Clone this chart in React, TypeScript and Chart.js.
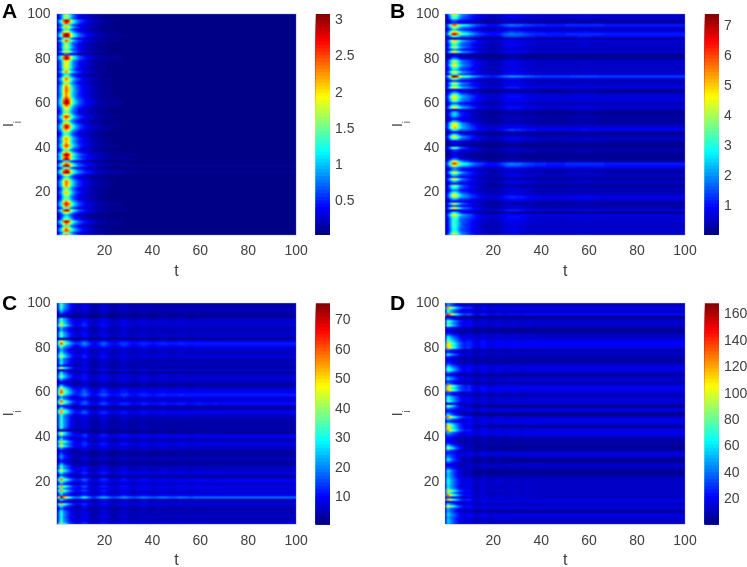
import React, { useEffect, useRef } from "react";
import { Chart, registerables } from "chart.js";

Chart.register(...registerables);

const FONT = '"Liberation Sans", Arial, sans-serif';
const TEXT = "#404040";

const xTicks = [20, 40, 60, 80, 100];
const yTicks = [20, 40, 60, 80, 100];

// Per-row peak level at the early pulse (rows 100 down to 1), per panel
const peakA = [
  1.6, 1.7, 1.5, 3.0, 2.6, 1.5, 2.1, 1.3, 1.9, 3.0,
  3.1, 1.5, 2.4, 1.5, 1.6, 1.7, 1.4, 2.0, 0.7, 2.8,
  2.9, 2.0, 1.9, 1.9, 1.9, 1.6, 2.2, 1.2, 1.5, 2.3,
  2.0, 1.6, 2.1, 2.3, 2.35, 2.3, 2.2, 2.3, 2.6, 2.9,
  3.0, 2.4, 1.9, 1.7, 1.5, 1.9, 2.6, 2.1, 1.5, 2.0,
  2.7, 2.7, 2.1, 1.5, 1.4, 1.9, 2.2, 2.0, 2.2, 2.5,
  2.1, 1.4, 2.2, 3.0, 2.6, 2.9, 1.1, 2.3, 3.0, 1.4,
  2.6, 3.1, 1.9, 1.2, 1.7, 2.3, 2.3, 2.2, 1.5, 1.7,
  2.0, 1.7, 1.4, 1.5, 2.2, 2.7, 2.4, 1.4, 2.9, 1.8,
  1.0, 1.2, 1.6, 2.9, 2.3, 1.4, 2.2, 2.5, 1.5, 2.2,
];
const peakB = [
  4.5, 3.5, 3.0, 1.5, 1.2, 5.5, 3.8, 2.5, 4.6, 6.5,
  3.0, 0.7, 4.7, 3.6, 3.0, 4.0, 2.0, 4.5, 0.8, 0.7,
  2.0, 3.8, 3.6, 4.5, 3.2, 2.5, 4.5, 2.8, 7.0, 3.6,
  1.5, 4.0, 3.2, 4.5, 0.9, 1.8, 3.2, 4.5, 4.0, 3.4,
  1.6, 3.0, 4.5, 0.8, 2.2, 2.5, 2.0, 1.0, 2.2, 4.5,
  4.5, 4.8, 2.4, 0.7, 2.6, 4.5, 3.0, 0.7, 0.7, 0.6,
  3.5, 1.2, 0.7, 0.7, 0.8, 1.8, 4.2, 5.8, 4.0, 1.8,
  2.0, 4.5, 2.6, 1.5, 4.5, 2.2, 1.1, 3.8, 2.8, 1.8,
  3.0, 4.5, 3.8, 2.0, 0.9, 4.0, 1.6, 4.6, 0.5, 2.8,
  4.4, 3.4, 3.0, 3.0, 3.0, 3.0, 2.8, 2.8, 3.5, 4.5,
];
const peakC = [
  33, 32, 30, 24, 18, 10, 5, 30, 32, 35,
  46, 22, 20, 28, 32, 30, 3, 42, 55, 35,
  24, 20, 26, 35, 40, 25, 25, 25, 12, 45,
  5, 26, 30, 35, 20, 10, 8, 25, 40, 52,
  55, 38, 16, 30, 55, 35, 10, 28, 50, 48,
  30, 28, 30, 30, 30, 30, 26, 3, 45, 32,
  15, 25, 50, 30, 45, 18, 8, 12, 18, 18,
  12, 10, 22, 30, 28, 45, 25, 15, 30, 52,
  30, 18, 50, 30, 50, 28, 15, 70, 25, 8,
  48, 25, 15, 24, 28, 28, 26, 28, 30, 45,
];
const peakD = [
  40, 40, 115, 60, 55, 130, 15, 30, 70, 60,
  75, 25, 15, 12, 25, 50, 60, 70, 100, 95,
  105, 30, 20, 55, 25, 15, 18, 25, 40, 60,
  70, 35, 15, 35, 50, 20, 40, 110, 85, 110,
  25, 30, 60, 60, 65, 8, 90, 40, 10, 30,
  60, 120, 40, 15, 70, 110, 90, 115, 40, 25,
  20, 18, 15, 30, 60, 90, 35, 15, 25, 40,
  60, 40, 10, 15, 30, 60, 55, 50, 50, 55,
  55, 55, 50, 60, 105, 70, 125, 25, 110, 10,
  50, 95, 40, 45, 45, 45, 40, 45, 45, 48,
];

// Per-row level of the long-lasting streaks (rows 100 down to 1), per panel
const tailA = [
  0.25, 0.25, 0.25, 0.35, 0.3, 0.25, 0.3, 0.2, 0.3, 0.4,
  0.45, 0.25, 0.35, 0.25, 0.25, 0.25, 0.2, 0.25, 0.1, 0.35,
  0.4, 0.3, 0.25, 0.25, 0.25, 0.25, 0.3, 0.2, 0.2, 0.3,
  0.3, 0.25, 0.3, 0.3, 0.3, 0.3, 0.3, 0.3, 0.35, 0.4,
  0.4, 0.35, 0.3, 0.25, 0.25, 0.3, 0.35, 0.3, 0.2, 0.3,
  0.35, 0.35, 0.3, 0.25, 0.2, 0.25, 0.3, 0.3, 0.3, 0.35,
  0.3, 0.25, 0.35, 0.5, 0.45, 0.5, 0.25, 0.4, 0.55, 0.25,
  0.5, 0.65, 0.4, 0.2, 0.25, 0.3, 0.3, 0.3, 0.25, 0.25,
  0.3, 0.25, 0.25, 0.25, 0.3, 0.4, 0.35, 0.25, 0.45, 0.3,
  0.15, 0.2, 0.25, 0.4, 0.35, 0.2, 0.3, 0.35, 0.25, 0.3,
];
const tailB = [
  0.9, 0.9, 0.8, 0.5, 0.6, 1.9, 1.2, 0.7, 1.4, 1.9,
  1.6, 0.4, 1.0, 0.9, 0.9, 0.8, 0.7, 1.0, 0.35, 0.3,
  0.3, 0.8, 0.9, 0.8, 0.9, 0.8, 0.9, 1.0, 2.2, 1.0,
  0.7, 0.9, 0.8, 1.2, 0.4, 0.4, 1.0, 1.1, 1.0, 1.0,
  0.7, 0.9, 1.1, 0.6, 0.3, 0.4, 0.5, 0.6, 0.4, 0.5,
  0.9, 1.0, 1.4, 0.4, 0.35, 0.7, 0.9, 0.6, 0.3, 0.25,
  0.3, 0.7, 0.4, 0.3, 0.25, 0.3, 0.6, 1.9, 1.7, 1.0,
  0.6, 0.6, 0.9, 0.7, 0.4, 0.9, 0.7, 0.4, 0.7, 0.7,
  0.7, 0.9, 1.3, 1.1, 0.7, 0.4, 0.7, 0.6, 1.2, 0.2,
  1.0, 1.1, 1.0, 0.9, 0.8, 0.8, 0.8, 0.8, 0.8, 0.9,
];
const tailC = [
  5, 5, 6, 6, 5, 4, 2.5, 7, 8, 9,
  9, 6, 6, 7, 8, 7, 2.5, 11, 15, 13,
  9, 7, 7, 8, 9, 6, 6, 6, 6, 5,
  9, 2.5, 8, 8, 9, 7, 5, 4, 8, 11,
  12, 15, 12, 7, 10, 14, 8, 3, 9, 12,
  8, 6, 6, 5, 5, 5, 5, 4, 2.5, 11,
  10, 6, 7, 11, 8, 8, 5, 4, 3, 6,
  6, 4, 3, 6, 8, 7, 11, 6, 5, 12,
  10, 7, 11, 9, 10, 7, 12, 22, 5, 8,
  9, 7, 5, 6, 6, 7, 6, 6, 8, 11,
];
const tailD = [
  10, 10, 19, 15, 12, 22, 5, 8, 16, 14,
  14, 8, 6, 6, 14, 14, 16, 20, 20, 20,
  19, 8, 12, 13, 7, 8, 8, 9, 16, 17,
  17, 13, 6, 12, 13, 12, 7, 18, 20, 19,
  14, 9, 13, 15, 15, 13, 3, 13, 18, 8,
  3, 14, 17, 18, 16, 6, 14, 17, 17, 18,
  9, 8, 8, 7, 6, 6, 8, 16, 17, 9,
  5, 6, 12, 13, 9, 4, 5, 7, 10, 14,
  14, 13, 13, 13, 14, 13, 12, 14, 16, 18,
  10, 16, 16, 4, 13, 18, 15, 12, 13, 12,
];

// Time profiles, 100 samples over the t axis, per panel
const pulseA = [
  0.1, 0.25, 0.42, 0.8, 1, 0.86, 0.58, 0.4, 0.3, 0.22,
  0.17, 0.13, 0.1, 0.08, 0.065, 0.05, 0.04, 0.03, 0.025, 0.02,
  0.015, 0.012, 0.01, 0.008, 0.006, 0.005, 0.004, 0.003, 0.002, 0.001,
  0, 0, 0, 0, 0, 0, 0, 0, 0, 0,
  0, 0, 0, 0, 0, 0, 0, 0, 0, 0,
  0, 0, 0, 0, 0, 0, 0, 0, 0, 0,
  0, 0, 0, 0, 0, 0, 0, 0, 0, 0,
  0, 0, 0, 0, 0, 0, 0, 0, 0, 0,
  0, 0, 0, 0, 0, 0, 0, 0, 0, 0,
  0, 0, 0, 0, 0, 0, 0, 0, 0, 0,
];
const streakA = [
  0.3, 0.3, 0.3, 0.3, 0.3, 0.3, 0.3, 0.3, 0.3, 0.32,
  0.34, 0.35, 0.35, 0.35, 0.33, 0.31, 0.29, 0.27, 0.25, 0.24,
  0.23, 0.22, 0.21, 0.2, 0.19, 0.19, 0.18, 0.18, 0.17, 0.17,
  0.17, 0.16, 0.16, 0.16, 0.15, 0.15, 0.15, 0.15, 0.15, 0.15,
  0.15, 0.15, 0.15, 0.15, 0.15, 0.15, 0.15, 0.15, 0.15, 0.15,
  0.15, 0.15, 0.15, 0.15, 0.15, 0.15, 0.15, 0.15, 0.15, 0.15,
  0.15, 0.15, 0.15, 0.15, 0.15, 0.15, 0.15, 0.15, 0.15, 0.15,
  0.15, 0.15, 0.15, 0.15, 0.15, 0.15, 0.15, 0.15, 0.15, 0.15,
  0.15, 0.15, 0.15, 0.15, 0.15, 0.15, 0.15, 0.15, 0.15, 0.15,
  0.15, 0.15, 0.15, 0.15, 0.15, 0.15, 0.15, 0.15, 0.15, 0.15,
];
const pulseB = [
  0.1, 0.25, 0.55, 0.92, 1, 0.8, 0.52, 0.38, 0.3, 0.25,
  0.2, 0.16, 0.13, 0.1, 0.08, 0.06, 0.05, 0.04, 0.03, 0.02,
  0.015, 0.01, 0.005, 0, 0, 0, 0, 0, 0, 0,
  0, 0, 0, 0, 0, 0, 0, 0, 0, 0,
  0, 0, 0, 0, 0, 0, 0, 0, 0, 0,
  0, 0, 0, 0, 0, 0, 0, 0, 0, 0,
  0, 0, 0, 0, 0, 0, 0, 0, 0, 0,
  0, 0, 0, 0, 0, 0, 0, 0, 0, 0,
  0, 0, 0, 0, 0, 0, 0, 0, 0, 0,
  0, 0, 0, 0, 0, 0, 0, 0, 0, 0,
];
const streakB = [
  0.2, 0.2, 0.2, 0.2, 0.2, 0.3, 0.4, 0.5, 0.6, 0.65,
  0.65, 0.6, 0.58, 0.55, 0.52, 0.5, 0.48, 0.46, 0.46, 0.46,
  0.48, 0.52, 0.58, 0.66, 0.76, 0.84, 0.9, 0.93, 0.93, 0.92,
  0.9, 0.87, 0.83, 0.78, 0.75, 0.72, 0.7, 0.68, 0.66, 0.65,
  0.64, 0.63, 0.62, 0.62, 0.62, 0.62, 0.62, 0.62, 0.62, 0.62,
  0.63, 0.64, 0.65, 0.66, 0.66, 0.67, 0.67, 0.68, 0.68, 0.68,
  0.67, 0.66, 0.65, 0.65, 0.64, 0.63, 0.62, 0.62, 0.62, 0.62,
  0.62, 0.62, 0.62, 0.62, 0.62, 0.62, 0.62, 0.62, 0.62, 0.62,
  0.62, 0.62, 0.62, 0.62, 0.62, 0.62, 0.62, 0.62, 0.62, 0.62,
  0.62, 0.62, 0.62, 0.62, 0.62, 0.62, 0.62, 0.62, 0.62, 0.62,
];
const pulseC = [
  0.03, 0.55, 1, 0.65, 0.5, 0.36, 0.26, 0.18, 0.13, 0.1,
  0.08, 0.09, 0.09, 0.06, 0.04, 0.03, 0.02, 0.02, 0.03, 0.03,
  0.03, 0.02, 0.01, 0.01, 0.01, 0.01, 0.01, 0.01, 0.01, 0.01,
  0, 0, 0, 0, 0, 0, 0, 0, 0, 0,
  0, 0, 0, 0, 0, 0, 0, 0, 0, 0,
  0, 0, 0, 0, 0, 0, 0, 0, 0, 0,
  0, 0, 0, 0, 0, 0, 0, 0, 0, 0,
  0, 0, 0, 0, 0, 0, 0, 0, 0, 0,
  0, 0, 0, 0, 0, 0, 0, 0, 0, 0,
  0, 0, 0, 0, 0, 0, 0, 0, 0, 0,
];
const streakC = [
  0.3, 0.5, 0.5, 0.5, 0.5, 0.5, 0.45, 0.42, 0.45, 0.55,
  0.75, 0.98, 1.0, 0.85, 0.68, 0.58, 0.6, 0.72, 0.88, 1.0,
  1.0, 0.88, 0.76, 0.68, 0.66, 0.7, 0.8, 0.9, 0.95, 0.9,
  0.82, 0.75, 0.72, 0.74, 0.8, 0.87, 0.9, 0.87, 0.82, 0.77,
  0.75, 0.76, 0.8, 0.84, 0.86, 0.84, 0.8, 0.78, 0.77, 0.78,
  0.82, 0.84, 0.84, 0.82, 0.8, 0.78, 0.78, 0.8, 0.82, 0.82,
  0.82, 0.8, 0.79, 0.79, 0.8, 0.81, 0.82, 0.81, 0.8, 0.79,
  0.8, 0.8, 0.81, 0.81, 0.8, 0.8, 0.8, 0.8, 0.8, 0.8,
  0.8, 0.8, 0.8, 0.8, 0.8, 0.8, 0.8, 0.8, 0.8, 0.8,
  0.8, 0.8, 0.8, 0.8, 0.8, 0.8, 0.8, 0.8, 0.8, 0.8,
];
const pulseD = [
  0.3, 1, 0.8, 0.6, 0.45, 0.33, 0.24, 0.17, 0.12, 0.09,
  0.07, 0.05, 0.03, 0.02, 0.01, 0.015, 0.015, 0.01, 0, 0,
  0, 0, 0, 0, 0, 0, 0, 0, 0, 0,
  0, 0, 0, 0, 0, 0, 0, 0, 0, 0,
  0, 0, 0, 0, 0, 0, 0, 0, 0, 0,
  0, 0, 0, 0, 0, 0, 0, 0, 0, 0,
  0, 0, 0, 0, 0, 0, 0, 0, 0, 0,
  0, 0, 0, 0, 0, 0, 0, 0, 0, 0,
  0, 0, 0, 0, 0, 0, 0, 0, 0, 0,
  0, 0, 0, 0, 0, 0, 0, 0, 0, 0,
];
const streakD = [
  0.6, 0.7, 0.8, 0.85, 0.85, 0.8, 0.7, 0.68, 0.75, 0.95,
  1.1, 1.0, 0.82, 0.75, 0.88, 1.05, 1.1, 1.0, 0.92, 0.9,
  0.95, 1.02, 1.04, 1.02, 0.98, 0.95, 0.97, 1.0, 1.02, 1.02,
  1.0, 0.98, 0.98, 1.0, 1.01, 1.01, 1.0, 1.0, 1.0, 1.0,
  1.0, 1.0, 1.0, 1.0, 1.0, 1.0, 1.0, 1.0, 1.0, 1.0,
  1.0, 1.0, 1.0, 1.0, 1.0, 1.0, 1.0, 1.0, 1.0, 1.0,
  1.0, 1.0, 1.0, 1.0, 1.0, 1.0, 1.0, 1.0, 1.0, 1.0,
  1.0, 1.0, 1.0, 1.0, 1.0, 1.0, 1.0, 1.0, 1.0, 1.0,
  1.0, 1.0, 1.0, 1.0, 1.0, 1.0, 1.0, 1.0, 1.0, 1.0,
  1.0, 1.0, 1.0, 1.0, 1.0, 1.0, 1.0, 1.0, 1.0, 1.0,
];

// Colour scale ranges and colourbar ticks
const rangeA = [0.03, 3.09];
const rangeB = [0.03, 7.4];
const rangeC = [0.8, 75.8];
const rangeD = [1, 168.5];
const barTicksA = [0.5, 1, 1.5, 2, 2.5, 3];
const barTicksB = [1, 2, 3, 4, 5, 6, 7];
const barTicksC = [10, 20, 30, 40, 50, 60, 70];
const barTicksD = [20, 40, 60, 80, 100, 120, 140, 160];

const LEVELS = 64;

function jet(f: number): [number, number, number] {
  const i = Math.max(0, Math.min(LEVELS - 1, Math.floor(f * LEVELS)));
  const g = (i + 0.5) / LEVELS;
  const c = (v: number) => Math.round(255 * Math.max(0, Math.min(1, v)));
  return [
    c(Math.min(4 * g - 1.5, -4 * g + 4.5)),
    c(Math.min(4 * g - 0.5, -4 * g + 3.5)),
    c(Math.min(4 * g + 0.5, -4 * g + 2.5)),
  ];
}

function buildCells(peak: number[], tail: number[], pulse: number[], streak: number[], range: number[]) {
  const cells: { x: number; y: number; v: number; col: number; row: number }[] = [];
  peak.forEach((p, r) => {
    pulse.forEach((q, t) => {
      const v = p * q + tail[r] * streak[t];
      cells.push({
        x: (t * 100) / 99,
        y: 100 - r,
        col: t,
        row: r,
        v: Math.max(range[0], Math.min(range[1], v)),
      });
    });
  });
  return cells;
}

const heatPlugin = {
  id: "heat",
  beforeDatasetsDraw(chart: any) {
    const ds = chart.data.datasets[0];
    const cells = ds.data as { col: number; row: number; v: number }[];
    const [lo, hi] = ds.vRange as number[];
    const off = document.createElement("canvas");
    off.width = 100;
    off.height = 100;
    const octx = off.getContext("2d")!;
    const img = octx.createImageData(100, 100);
    for (const c of cells) {
      const [r, g, b] = jet((c.v - lo) / (hi - lo));
      const k = (c.row * 100 + c.col) * 4;
      img.data[k] = r;
      img.data[k + 1] = g;
      img.data[k + 2] = b;
      img.data[k + 3] = 255;
    }
    octx.putImageData(img, 0, 0);
    const { x, y } = chart.scales;
    const x0 = x.getPixelForValue(0);
    const x1 = x.getPixelForValue(100);
    const y0 = y.getPixelForValue(100);
    const y1 = y.getPixelForValue(1);
    const ctx = chart.ctx;
    ctx.save();
    ctx.imageSmoothingEnabled = true;
    ctx.imageSmoothingQuality = "high";
    ctx.drawImage(off, 0.5, 0.5, 99, 99, x0, y0, x1 - x0, y1 - y0);
    ctx.strokeStyle = "rgba(120,130,240,0.4)";
    ctx.lineWidth = 1;
    ctx.strokeRect(x0, y0, x1 - x0, y1 - y0);
    ctx.restore();
  },
};

const labelPlugin = {
  id: "panelLabels",
  afterDraw(chart: any, _a: any, opts: any) {
    const ctx = chart.ctx;
    const area = chart.chartArea;
    const cy = (area.top + area.bottom) / 2;
    ctx.save();
    ctx.fillStyle = "#000";
    ctx.font = `bold 21px ${FONT}`;
    ctx.textBaseline = "alphabetic";
    ctx.textAlign = "left";
    ctx.fillText(opts.letter, opts.letterX, opts.letterY);
    ctx.fillStyle = TEXT;
    ctx.translate(area.left - 43.5, cy + 2.5);
    ctx.rotate(-Math.PI / 2);
    ctx.font = `14px ${FONT}`;
    ctx.fillText("I", 0, 0);
    ctx.font = `10px ${FONT}`;
    ctx.fillText("i", 3.8, 8);
    ctx.restore();
  },
};

const tickStyle = {
  font: { family: FONT, size: 14 },
  color: TEXT,
  maxRotation: 0,
  autoSkip: false,
};

type PanelProps = {
  letter: string;
  left: number;
  top: number;
  areaLeft: number;
  areaTop: number;
  letterX: number;
  letterY: number;
  peak: number[];
  tail: number[];
  pulse: number[];
  streak: number[];
  range: number[];
};

const PW = 312;
const PH = 283;
const AREA_W = 239.7;
const AREA_H = 221;

function HeatPanel(p: PanelProps) {
  const ref = useRef<HTMLCanvasElement>(null);
  useEffect(() => {
    const chart = new Chart(ref.current!, {
      type: "scatter",
      data: {
        datasets: [
          {
            data: buildCells(p.peak, p.tail, p.pulse, p.streak, p.range),
            vRange: p.range,
            pointRadius: 0,
            pointHoverRadius: 0,
          } as any,
        ],
      },
      options: {
        responsive: false,
        animation: false,
        events: [],
        layout: {
          autoPadding: false,
          padding: { left: 0, top: p.areaTop, right: PW - p.areaLeft - AREA_W, bottom: 0 },
        },
        scales: {
          x: {
            type: "linear",
            min: 0,
            max: 100,
            grid: { display: false, drawTicks: false },
            border: { display: false },
            afterBuildTicks: (s: any) => {
              s.ticks = xTicks.map((value) => ({ value }));
            },
            afterFit: (s: any) => {
              s.height = PH - p.areaTop - AREA_H;
              s.paddingLeft = 0;
              s.paddingRight = 0;
            },
            ticks: { ...tickStyle, padding: 8, callback: (v: any) => String(v) },
            title: {
              display: true,
              text: "t",
              color: TEXT,
              font: { family: FONT, size: 16 },
              padding: { top: 0, bottom: 2 },
            },
          },
          y: {
            type: "linear",
            min: 1,
            max: 100,
            grid: { display: false, drawTicks: false },
            border: { display: false },
            afterBuildTicks: (s: any) => {
              s.ticks = yTicks.map((value) => ({ value }));
            },
            afterFit: (s: any) => {
              s.width = p.areaLeft;
              s.paddingTop = 0;
              s.paddingBottom = 0;
            },
            ticks: { ...tickStyle, padding: 6, callback: (v: any) => String(v) },
          },
        },
        plugins: {
          legend: { display: false },
          tooltip: { enabled: false },
          panelLabels: { letter: p.letter, letterX: p.letterX, letterY: p.letterY },
        } as any,
      },
      plugins: [heatPlugin, labelPlugin],
    } as any);
    return () => chart.destroy();
  }, []);
  return (
    <canvas
      ref={ref}
      width={PW}
      height={PH}
      style={{ position: "absolute", left: p.left, top: p.top, width: PW, height: PH }}
    />
  );
}

type BarProps = { left: number; top: number; padLeft: number; areaTop: number; range: number[]; ticks: number[] };
const BW = 47;
const BAR_W = 14.3;

function ColorBar(p: BarProps) {
  const ref = useRef<HTMLCanvasElement>(null);
  useEffect(() => {
    const [lo, hi] = p.range;
    const levels = Array.from({ length: LEVELS }, (_, i) => i);
    const chart = new Chart(ref.current!, {
      type: "bar",
      data: {
        labels: ["c"],
        datasets: levels.map((i) => {
          const [r, g, b] = jet((i + 0.5) / LEVELS);
          return {
            data: [[lo, lo + ((i + 1) * (hi - lo)) / LEVELS]],
            backgroundColor: `rgb(${r},${g},${b})`,
            borderWidth: 0,
            barPercentage: 1,
            categoryPercentage: 1,
            grouped: false,
          };
        }),
      },
      options: {
        responsive: false,
        animation: false,
        events: [],
        layout: {
          autoPadding: false,
          padding: { left: p.padLeft, top: p.areaTop, bottom: PH - p.areaTop - AREA_H, right: 0 },
        },
        scales: {
          x: { display: false },
          y: {
            type: "linear",
            position: "right",
            min: lo,
            max: hi,
            grid: { display: false, drawTicks: false },
            border: { display: false },
            afterBuildTicks: (s: any) => {
              s.ticks = p.ticks.map((value) => ({ value }));
            },
            afterFit: (s: any) => {
              s.width = BW - p.padLeft - BAR_W;
              s.paddingTop = 0;
              s.paddingBottom = 0;
            },
            ticks: { ...tickStyle, padding: 5, callback: (v: any) => String(v) },
          },
        },
        plugins: { legend: { display: false }, tooltip: { enabled: false } },
      },
    } as any);
    return () => chart.destroy();
  }, []);
  return (
    <canvas
      ref={ref}
      width={BW}
      height={PH}
      style={{ position: "absolute", left: p.left, top: p.top, width: BW, height: PH }}
    />
  );
}

export default function App() {
  return (
    <div style={{ position: "absolute", left: 0, top: 0, width: 747, height: 567, overflow: "hidden", background: "#fff" }}>
      <HeatPanel letter="A" left={0} top={0} areaLeft={56.5} areaTop={14} letterX={2} letterY={17.5} peak={peakA} tail={tailA} pulse={pulseA} streak={streakA} range={rangeA} />
      <ColorBar left={312} top={0} padLeft={3.7} areaTop={14} range={rangeA} ticks={barTicksA} />
      <HeatPanel letter="B" left={388} top={0} areaLeft={57.3} areaTop={14} letterX={2} letterY={17.5} peak={peakB} tail={tailB} pulse={pulseB} streak={streakB} range={rangeB} />
      <ColorBar left={700} top={0} padLeft={4.7} areaTop={14} range={rangeB} ticks={barTicksB} />
      <HeatPanel letter="C" left={0} top={289} areaLeft={56.5} areaTop={14.3} letterX={2} letterY={20.5} peak={peakC} tail={tailC} pulse={pulseC} streak={streakC} range={rangeC} />
      <ColorBar left={312} top={289} padLeft={3.7} areaTop={14.3} range={rangeC} ticks={barTicksC} />
      <HeatPanel letter="D" left={388} top={289} areaLeft={57.3} areaTop={14.3} letterX={2} letterY={20.5} peak={peakD} tail={tailD} pulse={pulseD} streak={streakD} range={rangeD} />
      <ColorBar left={700} top={289} padLeft={4.7} areaTop={14.3} range={rangeD} ticks={barTicksD} />
    </div>
  );
}
